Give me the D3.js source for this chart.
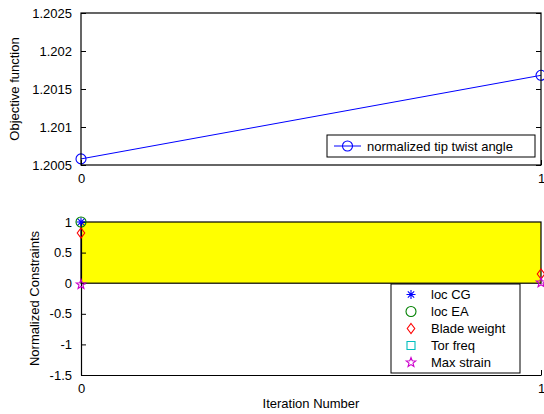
<!DOCTYPE html>
<html>
<head>
<meta charset="utf-8">
<script src="https://cdn.jsdelivr.net/npm/d3@7"></script>
<style>
  html, body { margin: 0; padding: 0; background: #fff; }
  svg { display: block; font-family: Arial, "Liberation Sans", sans-serif; }
</style>
</head>
<body>
<svg id="chart" width="544" height="414"></svg>
<script>
// Iterations and objective history
const iterations = [0, 1];
const objective = [1.20058, 1.20168];
const objectiveTicks = [1.2005, 1.201, 1.2015, 1.202, 1.2025];
const objectiveTickLabels = ["1.2005", "1.201", "1.2015", "1.202", "1.2025"];

// Normalized constraint values per iteration (null = not shown)
const locCG = [1, null];
const locEA = [1, null];
const bladeWeight = [0.82, 0.15];
const torFreq = [null, null];
const maxStrain = [-0.02, 0.01];
const constraintTicks = [-1.5, -1, -0.5, 0, 0.5, 1];
const constraintTickLabels = ["-1.5", "-1", "-0.5", "0", "0.5", "1"];
const iterationTickLabels = ["0", "1"];

const svg = d3.select("#chart");
const FONT = 13;
const TICK = 5;

const left = 81, right = 541;
const top1 = 13, bot1 = 165;
const top2 = 222, bot2 = 375;

const x = d3.scaleLinear().domain([0, 1]).range([left, right]);
const y1 = d3.scaleLinear().domain([1.2005, 1.2025]).range([bot1, top1]);
const y2 = d3.scaleLinear().domain([-1.5, 1]).range([bot2, top2]);

// marker shapes
function markerPath(kind, r) {
  switch (kind) {
    case "circle": return d3.symbol(d3.symbolCircle, Math.PI * r * r)();
    case "diamond": return `M0,${-r}L${r * 0.75},0L0,${r}L${-r * 0.75},0Z`;
    case "square": return `M${-r},${-r}H${r}V${r}H${-r}Z`;
    case "asterisk": {
      const d = r * 0.707;
      return `M${-r},0H${r}M0,${-r}V${r}M${-d},${-d}L${d},${d}M${-d},${d}L${d},${-d}`;
    }
    case "star": {
      const pts = [];
      for (let i = 0; i < 10; i++) {
        const a = -Math.PI / 2 + i * Math.PI / 5;
        const rr = i % 2 === 0 ? r : r * 0.42;
        pts.push([rr * Math.cos(a), rr * Math.sin(a)]);
      }
      return "M" + pts.map(p => p.join(",")).join("L") + "Z";
    }
  }
}

function drawMarker(g, kind, cx, cy, color, r) {
  g.append("path")
    .attr("d", markerPath(kind, r))
    .attr("transform", `translate(${cx},${cy})`)
    .attr("fill", "none")
    .attr("stroke", color)
    .attr("stroke-width", 1.1);
}

// ---------- top axes: objective function ----------
const g1 = svg.append("g");
g1.append("rect")
  .attr("x", left).attr("y", top1)
  .attr("width", right - left).attr("height", bot1 - top1)
  .attr("fill", "#fff");

const line = d3.line().x((d, i) => x(iterations[i])).y(d => y1(d));
g1.append("path")
  .datum(objective)
  .attr("d", line)
  .attr("fill", "none")
  .attr("stroke", "#0000ff")
  .attr("stroke-width", 1);
objective.forEach((v, i) => drawMarker(g1, "circle", x(iterations[i]), y1(v), "#0000ff", 5));

// box + ticks
const axisColor = "#000";
g1.append("rect")
  .attr("x", left).attr("y", top1)
  .attr("width", right - left).attr("height", bot1 - top1)
  .attr("fill", "none").attr("stroke", axisColor).attr("stroke-width", 1.2);

const yAxis1 = d3.axisLeft(y1).tickValues(objectiveTicks)
  .tickFormat((d, i) => objectiveTickLabels[i]).tickSizeInner(-TICK).tickSizeOuter(0).tickPadding(TICK + 4);
const ya1 = g1.append("g").attr("transform", `translate(${left},0)`).call(yAxis1);
const yAxis1R = d3.axisRight(y1).tickValues(objectiveTicks).tickFormat("").tickSizeInner(-TICK).tickSizeOuter(0);
const ya1r = g1.append("g").attr("transform", `translate(${right},0)`).call(yAxis1R);
const xAxis1 = d3.axisBottom(x).tickValues(iterations)
  .tickFormat((d, i) => iterationTickLabels[i]).tickSizeInner(-TICK).tickSizeOuter(0).tickPadding(TICK + 4);
const xa1 = g1.append("g").attr("transform", `translate(0,${bot1})`).call(xAxis1);

[ya1, ya1r, xa1].forEach(a => {
  a.select(".domain").remove();
  a.selectAll("line").attr("stroke", axisColor);
  a.selectAll("text").attr("font-size", FONT).attr("fill", "#000")
    .attr("font-family", "Arial, 'Liberation Sans', sans-serif");
});

g1.append("text")
  .attr("transform", `translate(19,${(top1 + bot1) / 2}) rotate(-90)`)
  .attr("text-anchor", "middle")
  .attr("font-size", FONT)
  .text("Objective function");

// legend (top)
const lg1 = g1.append("g");
lg1.append("rect")
  .attr("x", 327).attr("y", 135).attr("width", 208).attr("height", 22)
  .attr("fill", "#fff").attr("stroke", "#000").attr("stroke-width", 1);
lg1.append("line").attr("x1", 334).attr("x2", 361).attr("y1", 146).attr("y2", 146)
  .attr("stroke", "#0000ff").attr("stroke-width", 1);
drawMarker(lg1, "circle", 347.5, 146, "#0000ff", 5);
lg1.append("text").attr("x", 367).attr("y", 146).attr("dy", "0.35em")
  .attr("font-size", FONT).text("normalized tip twist angle");

// ---------- bottom axes: normalized constraints ----------
const g2 = svg.append("g");

// feasible band between 0 and 1
g2.append("rect")
  .attr("x", x(0)).attr("y", y2(1))
  .attr("width", x(1) - x(0)).attr("height", y2(0) - y2(1))
  .attr("fill", "#ffff00").attr("stroke", "#000").attr("stroke-width", 1.2);

const yAxis2 = d3.axisLeft(y2).tickValues(constraintTicks)
  .tickFormat((d, i) => constraintTickLabels[i]).tickSizeInner(-TICK).tickSizeOuter(0).tickPadding(TICK + 4);
const ya2 = g2.append("g").attr("transform", `translate(${left},0)`).call(yAxis2);
const xAxis2 = d3.axisBottom(x).tickValues(iterations)
  .tickFormat((d, i) => iterationTickLabels[i]).tickSizeInner(-TICK).tickSizeOuter(0).tickPadding(TICK + 4);
const xa2 = g2.append("g").attr("transform", `translate(0,${bot2})`).call(xAxis2);
[ya2, xa2].forEach(a => {
  a.select(".domain").attr("stroke", axisColor).attr("stroke-width", 1.2);
  a.selectAll("line").attr("stroke", axisColor);
  a.selectAll("text").attr("font-size", FONT).attr("fill", "#000")
    .attr("font-family", "Arial, 'Liberation Sans', sans-serif");
});

const series = [
  { name: "loc CG", values: locCG, kind: "asterisk", color: "#0000ff", r: 4.5 },
  { name: "loc EA", values: locEA, kind: "circle", color: "#008000", r: 5 },
  { name: "Blade weight", values: bladeWeight, kind: "diamond", color: "#ff0000", r: 5 },
  { name: "Tor freq", values: torFreq, kind: "square", color: "#00bfbf", r: 4 },
  { name: "Max strain", values: maxStrain, kind: "star", color: "#cc00cc", r: 5 }
];

series.forEach(s => {
  s.values.forEach((v, i) => {
    if (v === null) return;
    drawMarker(g2, s.kind, x(iterations[i]), y2(v), s.color, s.r);
  });
});

g2.append("text")
  .attr("transform", `translate(39,${(top2 + bot2) / 2}) rotate(-90)`)
  .attr("text-anchor", "middle")
  .attr("font-size", FONT)
  .text("Normalized Constraints");

g2.append("text")
  .attr("x", (left + right) / 2).attr("y", 403).attr("dy", "0.35em")
  .attr("text-anchor", "middle")
  .attr("font-size", FONT)
  .text("Iteration Number");

// legend (bottom)
const lg2 = g2.append("g");
lg2.append("rect")
  .attr("x", 391).attr("y", 284).attr("width", 129).attr("height", 89)
  .attr("fill", "#fff").attr("stroke", "#000").attr("stroke-width", 1);
series.forEach((s, i) => {
  const cy = 294.5 + i * 17;
  drawMarker(lg2, s.kind, 411, cy, s.color, s.r);
  lg2.append("text").attr("x", 431).attr("y", cy).attr("dy", "0.35em")
    .attr("font-size", FONT).text(s.name);
});
</script>
</body>
</html>
